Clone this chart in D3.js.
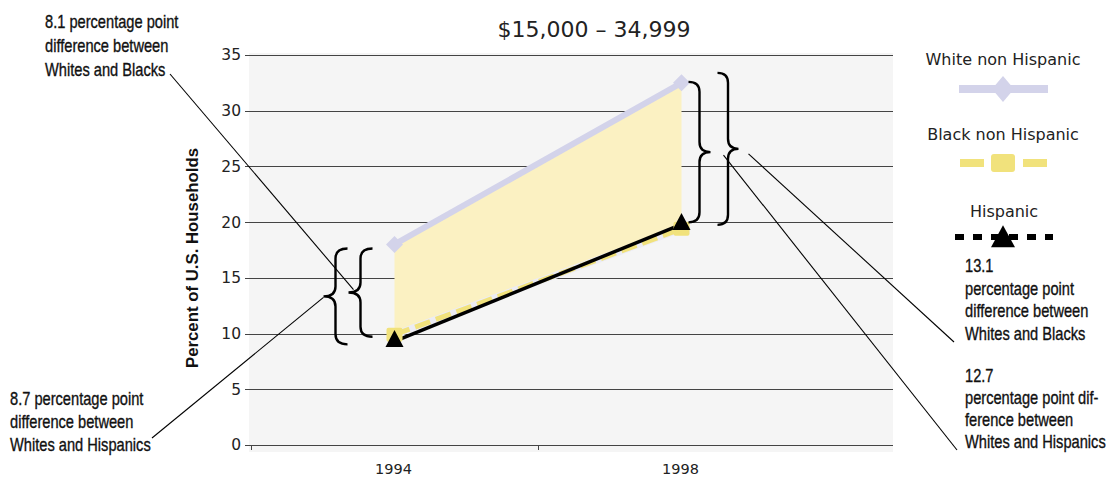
<!DOCTYPE html>
<html>
<head>
<meta charset="utf-8">
<script src="https://cdn.jsdelivr.net/npm/d3@7"></script>
<style>
  html, body { margin: 0; padding: 0; background: #ffffff; }
  svg { display: block; }
  .sans { font-family: "DejaVu Sans", "Open Sans", sans-serif; }
  .narrow { font-family: "Liberation Sans", Arial, sans-serif; }
</style>
</head>
<body>
<svg id="chart" width="1106" height="478"></svg>
<script>
// Share of U.S. households in the $15,000 – 34,999 income bracket
const categories = ["1994", "1998"];
const whiteNonHispanic = [18.0, 32.5];
const blackNonHispanic = [9.9, 19.4];
const hispanic = [9.3, 19.8];
const yTickValues = [0, 5, 10, 15, 20, 25, 30, 35];

const titleText = "$15,000 – 34,999";
const yAxisTitle = "Percent of U.S. Households";
const legendLabels = ["White non Hispanic", "Black non Hispanic", "Hispanic"];

const noteWB1994 = ["8.1 percentage point", "difference between", "Whites and Blacks"];
const noteWH1994 = ["8.7 percentage point", "difference between", "Whites and Hispanics"];
const noteWB1998 = ["13.1", "percentage point", "difference between", "Whites and Blacks"];
const noteWH1998 = ["12.7", "percentage point dif-", "ference between", "Whites and Hispanics"];

const svg = d3.select("#chart");

const plot = { left: 249, right: 893, top: 53, bottom: 452 };

const x = d3.scaleBand().domain(categories).range([251, 825]).paddingInner(0).paddingOuter(0);
const cx = c => x(c) + x.bandwidth() / 2;
const y = d3.scaleLinear().domain([0, 35]).range([445, 55]);

const colors = { white: "#d3d3ea", black: "#f1e27c", fill: "#fbf1c2", hisp: "#000000" };

// plot background
svg.append("rect")
  .attr("x", plot.left).attr("y", plot.top)
  .attr("width", plot.right - plot.left).attr("height", plot.bottom - plot.top)
  .attr("fill", "#f5f5f5");

// horizontal gridlines with tick labels
const yAxis = d3.axisLeft(y)
  .tickValues(yTickValues)
  .tickSize(-(plot.right - 245))
  .tickPadding(4)
  .tickFormat(d3.format("d"));
const gy = svg.append("g").attr("transform", "translate(245,0)").call(yAxis);
gy.select(".domain").remove();
gy.selectAll(".tick line").attr("stroke", "#444").attr("stroke-width", 1).attr("shape-rendering", "crispEdges");
gy.selectAll(".tick text")
  .attr("class", "sans")
  .attr("font-size", 15.5)
  .attr("fill", "#222");

// x axis: baseline, category ticks at band starts, year labels under band centres
const gx = svg.append("g");
gx.append("line")
  .attr("x1", 245).attr("x2", plot.right)
  .attr("y1", y(0)).attr("y2", y(0))
  .attr("stroke", "#444").attr("shape-rendering", "crispEdges");
gx.selectAll("line.tk").data(categories).join("line")
  .attr("class", "tk")
  .attr("x1", d => x(d)).attr("x2", d => x(d))
  .attr("y1", y(0)).attr("y2", y(0) + 5)
  .attr("stroke", "#444").attr("shape-rendering", "crispEdges");
gx.selectAll("text").data(categories).join("text")
  .attr("class", "sans")
  .attr("x", d => cx(d) - 1).attr("y", 474)
  .attr("text-anchor", "middle")
  .attr("font-size", 14.5)
  .attr("fill", "#222")
  .text(d => d);

// shaded gap between whites and blacks
const idx = categories.map((c, i) => i);
const area = d3.area()
  .x(i => cx(categories[i]))
  .y0(i => y(blackNonHispanic[i]))
  .y1(i => y(whiteNonHispanic[i]));
svg.append("path").datum(idx).attr("d", area).attr("fill", colors.fill);

const lineOf = arr => d3.line().x(i => cx(categories[i])).y(i => y(arr[i]));

// white non Hispanic
svg.append("path").datum(idx).attr("d", lineOf(whiteNonHispanic))
  .attr("fill", "none").attr("stroke", colors.white).attr("stroke-width", 6);

// black non Hispanic: dashed yellow over a pale band
svg.append("path").datum(idx).attr("d", lineOf(blackNonHispanic))
  .attr("fill", "none").attr("stroke", "#ececf4").attr("stroke-width", 7);
svg.append("path").datum(idx).attr("d", lineOf(blackNonHispanic))
  .attr("fill", "none").attr("stroke", colors.black).attr("stroke-width", 5)
  .attr("stroke-dasharray", "16,6");

// Hispanic
svg.append("path").datum(idx).attr("d", lineOf(hispanic))
  .attr("fill", "none").attr("stroke", colors.hisp).attr("stroke-width", 3.5);

// marker shapes
const diamondPath = (hw, hh) => `M0,${-hh}L${hw},0L0,${hh}L${-hw},0Z`;
const trianglePath = (hw, h) => `M0,${-h * 2 / 3}L${hw},${h / 3}L${-hw},${h / 3}Z`;

svg.selectAll("path.wm").data(idx).join("path")
  .attr("class", "wm")
  .attr("transform", i => `translate(${cx(categories[i])},${y(whiteNonHispanic[i])})`)
  .attr("d", diamondPath(8.5, 8.5))
  .attr("fill", colors.white);

svg.selectAll("rect.bm").data(idx).join("rect")
  .attr("class", "bm")
  .attr("x", i => cx(categories[i]) - 8)
  .attr("y", i => y(blackNonHispanic[i]) - 7)
  .attr("width", 16).attr("height", 14).attr("rx", 2)
  .attr("fill", colors.black);

svg.selectAll("path.hm").data(idx).join("path")
  .attr("class", "hm")
  .attr("transform", i => `translate(${cx(categories[i])},${y(hispanic[i])})`)
  .attr("d", trianglePath(9, 17))
  .attr("fill", colors.hisp);

// curly braces
function bracePath(xTip, xEnd, yTop, yBot) {
  const ym = (yTop + yBot) / 2;
  const xm = (xTip + xEnd) / 2;
  const r = Math.min(10, (yBot - yTop) / 6);
  return `M${xEnd},${yTop}` +
    `Q${xm},${yTop} ${xm},${yTop + r}` +
    `L${xm},${ym - r}` +
    `Q${xm},${ym} ${xTip},${ym}` +
    `Q${xm},${ym} ${xm},${ym + r}` +
    `L${xm},${yBot - r}` +
    `Q${xm},${yBot} ${xEnd},${yBot}`;
}
const braceG = svg.append("g").attr("fill", "none").attr("stroke", "#000").attr("stroke-width", 2.4);

const x94 = cx("1994"), x98 = cx("1998");
const braces = [
  // 1994, whites vs Hispanics (outer) and whites vs blacks (inner)
  { tip: x94 - 71, end: x94 - 47, top: y(whiteNonHispanic[0]) + 4, bot: y(hispanic[0]) + 3 },
  { tip: x94 - 46, end: x94 - 22, top: y(whiteNonHispanic[0]) + 4, bot: y(blackNonHispanic[0]) + 2 },
  // 1998, whites vs Hispanics (inner) and whites vs blacks (outer)
  { tip: x98 + 29, end: x98 + 7, top: y(whiteNonHispanic[1]) - 1, bot: y(hispanic[1]) - 2 },
  { tip: x98 + 57, end: x98 + 36, top: y(whiteNonHispanic[1]) - 10, bot: y(blackNonHispanic[1]) - 4 }
];
braces.forEach(b => braceG.append("path").attr("d", bracePath(b.tip, b.end, b.top, b.bot)));

// leader lines from notes to braces
const mid = b => (b.top + b.bot) / 2;
const leaders = [
  { x1: 170, y1: 74, x2: braces[1].tip + 5, y2: mid(braces[1]) - 3 },
  { x1: 152, y1: 438, x2: braces[0].tip, y2: mid(braces[0]) + 1 },
  { x1: braces[3].tip + 10, y1: mid(braces[3]) + 5, x2: 954, y2: 342 },
  { x1: braces[2].tip + 13, y1: mid(braces[2]) + 3, x2: 957, y2: 450 }
];
svg.append("g").selectAll("line").data(leaders).join("line")
  .attr("x1", d => d.x1).attr("y1", d => d.y1)
  .attr("x2", d => d.x2).attr("y2", d => d.y2)
  .attr("stroke", "#000").attr("stroke-width", 1.1);

// note blocks, set in a condensed width
function note(lines, xPos, yFirst, step) {
  const g = svg.append("g").attr("transform", `translate(${xPos},0) scale(0.8,1)`);
  const t = g.append("text").attr("class", "narrow")
    .attr("font-size", 18.3).attr("fill", "#111")
    .attr("stroke", "#111").attr("stroke-width", 0.35);
  lines.forEach((s, i) => t.append("tspan").attr("x", 0).attr("y", yFirst + i * step).text(s));
}
note(noteWB1994, 45, 28, 24);
note(noteWH1994, 10, 405, 23);
note(noteWB1998, 965, 272, 22.7);
note(noteWH1998, 965, 382, 22);

// title
svg.append("text").attr("class", "sans")
  .attr("x", 594).attr("y", 37)
  .attr("text-anchor", "middle")
  .attr("font-size", 22).attr("fill", "#222")
  .text(titleText);

// y axis title
svg.append("text")
  .attr("transform", "translate(198,258) rotate(-90)")
  .attr("text-anchor", "middle")
  .attr("font-family", "Liberation Sans, Arial, sans-serif")
  .attr("font-weight", "bold")
  .attr("font-size", 16.8).attr("fill", "#111")
  .text(yAxisTitle);

// legend
const lg = svg.append("g");
const lgX = 1003;
lg.selectAll("text").data(legendLabels).join("text")
  .attr("class", "sans")
  .attr("x", (d, i) => i === 2 ? lgX + 1 : lgX)
  .attr("y", (d, i) => [65, 140, 217][i])
  .attr("text-anchor", "middle")
  .attr("font-size", 16).attr("fill", "#222")
  .text(d => d);

// white swatch
lg.append("line").attr("x1", 959).attr("x2", 1048).attr("y1", 89).attr("y2", 89)
  .attr("stroke", colors.white).attr("stroke-width", 8);
lg.append("path").attr("transform", `translate(${lgX},89)`).attr("d", diamondPath(11, 13)).attr("fill", colors.white);

// black swatch
lg.append("line").attr("x1", 960).attr("x2", 1047).attr("y1", 163).attr("y2", 163)
  .attr("stroke", colors.black).attr("stroke-width", 8)
  .attr("stroke-dasharray", "24,39,24");
lg.append("rect").attr("x", lgX - 12).attr("y", 154).attr("width", 24).attr("height", 18).attr("rx", 3)
  .attr("fill", colors.black);

// Hispanic swatch
lg.append("line").attr("x1", 955).attr("x2", 1053).attr("y1", 237).attr("y2", 237)
  .attr("stroke", "#000").attr("stroke-width", 6)
  .attr("stroke-dasharray", "9,9");
lg.append("path").attr("transform", `translate(${lgX},240)`).attr("d", trianglePath(12, 22)).attr("fill", "#000");
</script>
</body>
</html>
